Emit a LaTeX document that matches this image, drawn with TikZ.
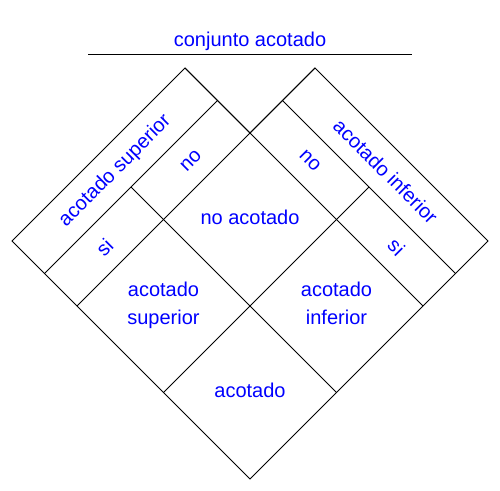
\documentclass[tikz,border=0pt]{standalone}
\usepackage{fontspec}
\setmainfont{Liberation Sans}
\begin{document}
\begin{tikzpicture}[x=1pt,y=-1pt,
  edge/.style={draw=black,line width=1pt,line join=miter},
  lbl/.style={text=blue,font=\fontsize{20}{28}\selectfont,inner sep=0pt,align=center},
  % (a,b) rotated system: x=(a+b)/2, y=(a-b)/2 (y down)
  rot/.style={x={(0.5pt,-0.5pt)},y={(0.5pt,0.5pt)}}]
\useasboundingbox (0,0) rectangle (500,490);
\fill[white] (0,0) rectangle (500,490);
% title
\node[lbl] (title) at (250,41.5) {conjunto acotado};
\coordinate (tl) at (88,54);
\coordinate (tr) at (412,54);
\draw[edge] (tl) -- (tr);
\begin{scope}[rot]
  \coordinate (L1) at (253,117);  \coordinate (L2) at (253,-229);
  \coordinate (M1) at (318,117);  \coordinate (M2) at (318,-229);
  \coordinate (N1) at (383,247);  \coordinate (N2) at (383,-229);
  \coordinate (O1) at (556,182);  \coordinate (O2) at (556,-229);
  \coordinate (P1) at (729,247);  \coordinate (P2) at (729,-229);
  \coordinate (Q1) at (383,182);  \coordinate (Q2) at (729,182);
  \coordinate (R1) at (253,117);  \coordinate (R2) at (729,117);
  \coordinate (S1) at (318,-56);  \coordinate (S2) at (729,-56);
  \coordinate (C) at (383,117);
  % outline
  \draw[edge] (L1) -- (L2) -- (P2) -- (P1) -- (N1) -- (C) -- cycle;
  \draw[edge] (M1) -- (M2);
  \draw[edge] (N1) -- (N2);
  \draw[edge] (O1) -- (O2);
  \draw[edge] (Q1) -- (Q2);
  \draw[edge] (R1) -- (R2);
  \draw[edge] (S1) -- (S2);
  % rotated labels
  \node[lbl,rotate=45] (lsup) at (286.5,-56) {acotado superior};
  \node[lbl,rotate=45] (lno) at (351.5,30.5) {no};
  \node[lbl,rotate=45] (lsi) at (351.5,-142.5) {si};
  \node[lbl,rotate=-45] (rinf) at (557,214.5) {acotado inferior};
  \node[lbl,rotate=-45] (rno) at (470.5,149.5) {no};
  \node[lbl,rotate=-45] (rsi) at (643.5,149.5) {si};
\end{scope}
% cell labels
\node[lbl] (noac) at (250,217) {no acotado};
\node[lbl,anchor=north] (acsup) at (163.5,281.5) {acotado\\superior};
\node[lbl,anchor=north] (acinf) at (336.5,281.5) {acotado\\inferior};
\node[lbl] (ac) at (250,390) {acotado};
\end{tikzpicture}
\end{document}
